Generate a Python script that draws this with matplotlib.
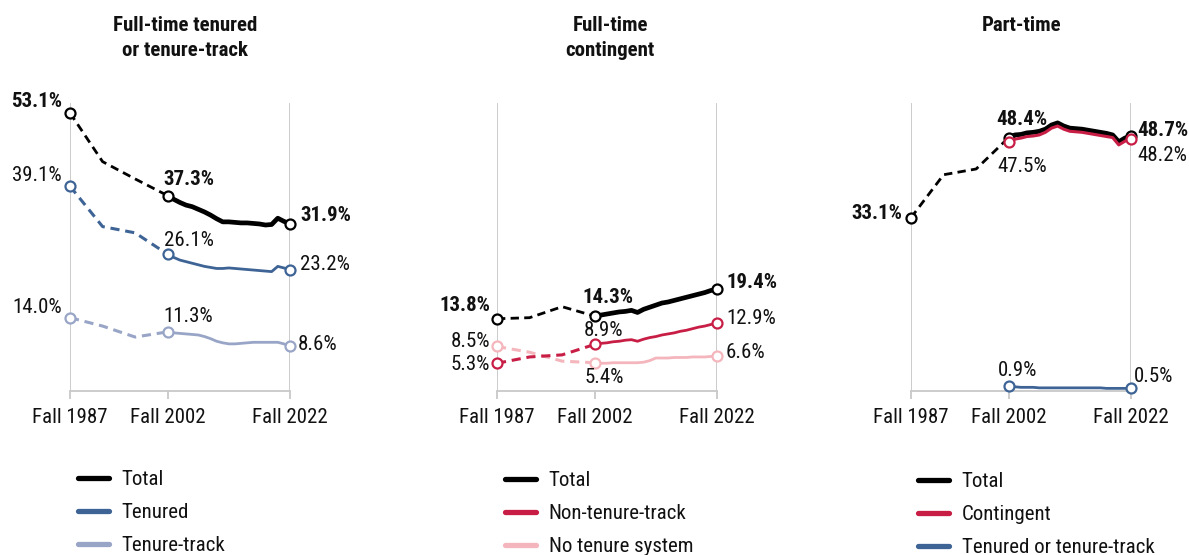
import numpy as np
import matplotlib
matplotlib.use("Agg")
import matplotlib.pyplot as plt
from matplotlib import font_manager as fm
from matplotlib.lines import Line2D

# ---------------- data ----------------
years_early = [1987, 1992, 1997, 2002]
years_late = list(range(2002, 2023))
tick_years = [1987, 2002, 2022]
tick_labels = ["Fall 1987", "Fall 2002", "Fall 2022"]

# Full-time tenured or tenure-track
ftt_total_early = [53.1, 43.8, 40.5, 37.3]
ftt_total_late = [37.3, 36.6, 36.0, 35.5, 35.2, 34.7, 34.2, 33.6, 32.9, 32.3, 32.3,
                  32.2, 32.1, 32.1, 32.0, 31.9, 31.7, 31.8, 33.0, 32.4, 31.9]
tenured_early = [39.1, 31.4, 30.2, 26.1]
tenured_late = [26.1, 25.5, 25.0, 24.7, 24.4, 24.1, 23.8, 23.6, 23.4, 23.4, 23.5,
                23.4, 23.3, 23.2, 23.1, 23.0, 22.9, 22.8, 23.8, 23.5, 23.2]
track_early = [14.0, 12.4, 10.3, 11.3]
track_late = [11.3, 11.1, 11.0, 10.9, 10.8, 10.7, 10.4, 10.0, 9.5, 9.2, 9.0,
              9.0, 9.1, 9.2, 9.3, 9.3, 9.3, 9.3, 9.3, 9.0, 8.6]

# Full-time contingent
fc_total_early = [13.8, 14.0, 16.1, 14.3]
fc_total_late = [14.3, 14.5, 14.7, 14.9, 15.1, 15.2, 15.4, 15.0, 15.6, 16.0, 16.4,
                 16.8, 17.0, 17.3, 17.6, 17.9, 18.2, 18.5, 18.8, 19.2, 19.4]
ntt_early = [5.3, 6.5, 6.9, 8.9]
ntt_late = [8.9, 9.1, 9.2, 9.4, 9.5, 9.7, 9.8, 9.5, 9.9, 10.2, 10.4,
            10.7, 10.9, 11.1, 11.4, 11.6, 11.9, 12.2, 12.4, 12.7, 12.9]
nts_early = [8.5, 7.4, 5.7, 5.4]
nts_late = [5.4, 5.3, 5.3, 5.4, 5.4, 5.4, 5.4, 5.4, 5.5, 5.8, 6.3,
            6.3, 6.3, 6.4, 6.4, 6.4, 6.5, 6.5, 6.5, 6.6, 6.6]

# Part-time
pt_total_early = [33.1, 41.3, 42.4, 48.4]
pt_total_late = [48.4, 48.9, 49.0, 49.3, 49.4, 49.6, 50.0, 50.8, 51.2, 50.6, 50.2,
                 50.1, 50.0, 49.8, 49.6, 49.4, 49.2, 48.9, 47.6, 48.3, 48.7]
pt_cont_late = [47.5, 48.1, 48.3, 48.6, 48.7, 48.9, 49.4, 50.2, 50.6, 50.0, 49.6,
                49.5, 49.4, 49.2, 49.0, 48.8, 48.6, 48.4, 47.0, 47.7, 48.2]
pt_tt_late = [0.9, 0.8, 0.7, 0.7, 0.7, 0.6, 0.6, 0.6, 0.6, 0.6, 0.6,
              0.6, 0.6, 0.6, 0.6, 0.6, 0.5, 0.5, 0.5, 0.5, 0.5]

titles = ["Full-time tenured\nor tenure-track", "Full-time\ncontingent", "Part-time"]

# ---------------- font choice (prefer a condensed sans) ----------------
entries = fm.fontManager.ttflist
names = {f.name for f in entries}
FONT, STRETCH, FS = None, "normal", 15
for cand in ["Roboto Condensed", "Liberation Sans Narrow", "Open Sans Condensed",
             "Noto Sans Condensed", "DejaVu Sans Condensed"]:
    if cand in names:
        FONT = cand
        break
if FONT is None:
    for fam in ["Roboto", "Noto Sans", "Open Sans", "DejaVu Sans", "Inter", "Lato"]:
        if any(f.name == fam and f.stretch in ("condensed", "semi-condensed",
                                              "extra-condensed", 75, 87.5, 62.5)
               for f in entries):
            FONT, STRETCH = fam, "condensed"
            break
if FONT is None:
    FONT, FS = "Roboto", 13
plt.rcParams["font.family"] = [FONT, "DejaVu Sans"]
plt.rcParams["font.stretch"] = STRETCH

BLACK = "#000000"
TEN = "#3e6496"
TRK = "#98a5c6"
CRIM = "#c81e46"
PINK = "#f4b6bc"
GRID = "#c8c8c8"
TXT = "#111111"

W, H = 1189, 555
fig = plt.figure(figsize=(W / 100, H / 100), dpi=100)

def fwd(x):
    x = np.asarray(x, dtype=float)
    return np.where(x <= 2002, (x - 1987) * 97.5 / 15, 97.5 + (x - 2002) * 122 / 20)

def inv(y):
    y = np.asarray(y, dtype=float)
    return np.where(y <= 97.5, 1987 + y * 15 / 97.5, 2002 + (y - 97.5) * 20 / 122)

panel_left = [70, 497, 911]
AX_W = 220
Y0 = 391
Y_TOP = 103

def make_ax(i):
    left = panel_left[i]
    ax = fig.add_axes([left / W, (H - Y0) / H, AX_W / W, (Y0 - Y_TOP) / H])
    ax.set_xscale("function", functions=(fwd, inv))
    ax.set_xlim(1987, 2022)
    ax.set_ylim(0, 55)
    for s in ["top", "right", "left"]:
        ax.spines[s].set_visible(False)
    ax.spines["bottom"].set_color(GRID)
    ax.spines["bottom"].set_linewidth(1.3)
    ax.set_yticks([])
    ax.set_xticks(tick_years)
    ax.set_xticklabels(tick_labels, fontsize=FS)
    ax.tick_params(axis="x", length=6, width=1.3, color=GRID, pad=6, labelcolor=TXT)
    ax.minorticks_off()
    for yr in (1987, 2022):
        ax.axvline(yr, color=GRID, lw=1.3, zorder=0)
    ax.patch.set_alpha(0)
    return ax

DASH = (0, (3.0, 1.9))

def series(ax, early, late, color, lw_solid, lw_dash=2.0, z=3):
    if early is not None:
        ax.plot(years_early, early, color=color, lw=lw_dash, ls=DASH, zorder=z,
                clip_on=False, dash_capstyle="butt")
    ax.plot(years_late, late, color=color, lw=lw_solid, zorder=z + 0.1, clip_on=False,
            solid_joinstyle="round", solid_capstyle="round")
    mx, my = [], []
    if early is not None:
        mx.append(years_early[0]); my.append(early[0])
    mx += [years_late[0], years_late[-1]]
    my += [late[0], late[-1]]
    ax.plot(mx, my, ls="none", marker="o", ms=7.2, mfc="white", mec=color, mew=1.6,
            zorder=z + 0.2, clip_on=False)

def lab(ax, text, yr, val, dx, dy, ha, bold=False):
    ax.annotate(text, xy=(yr, val), xytext=(dx, dy), textcoords="offset pixels",
                ha=ha, va="center", fontsize=FS, fontweight="bold" if bold else "normal",
                color=TXT, annotation_clip=False, zorder=10)

# Panel 1
ax1 = make_ax(0)
series(ax1, track_early, track_late, TRK, 2.0, 2.2, z=3)
series(ax1, tenured_early, tenured_late, TEN, 2.0, 2.2, z=4)
series(ax1, ftt_total_early, ftt_total_late, BLACK, 3.4, 2.0, z=5)
lab(ax1, "53.1%", 1987, ftt_total_early[0], -8, 11, "right", True)
lab(ax1, "39.1%", 1987, tenured_early[0], -8, 11, "right")
lab(ax1, "14.0%", 1987, track_early[0], -8, 10, "right")
lab(ax1, "37.3%", 2002, ftt_total_late[0], -4, 16, "left", True)
lab(ax1, "26.1%", 2002, tenured_late[0], -4, 14, "left")
lab(ax1, "11.3%", 2002, track_late[0], -4, 15, "left")
lab(ax1, "31.9%", 2022, ftt_total_late[-1], 10, 8, "left", True)
lab(ax1, "23.2%", 2022, tenured_late[-1], 10, 5, "left")
lab(ax1, "8.6%", 2022, track_late[-1], 8, 1, "left")

# Panel 2
ax2 = make_ax(1)
series(ax2, nts_early, nts_late, PINK, 2.0, 2.2, z=3)
series(ax2, ntt_early, ntt_late, CRIM, 2.0, 2.2, z=4)
series(ax2, fc_total_early, fc_total_late, BLACK, 3.4, 2.0, z=5)
lab(ax2, "13.8%", 1987, fc_total_early[0], -7, 13, "right", True)
lab(ax2, "8.5%", 1987, nts_early[0], -7, 5, "right")
lab(ax2, "5.3%", 1987, ntt_early[0], -7, -1, "right")
lab(ax2, "14.3%", 2002, fc_total_late[0], -12, 19, "left", True)
lab(ax2, "8.9%", 2002, ntt_late[0], -11, 14, "left")
lab(ax2, "5.4%", 2002, nts_late[0], -10, -15, "left")
lab(ax2, "19.4%", 2022, fc_total_late[-1], 9, 7, "left", True)
lab(ax2, "12.9%", 2022, ntt_late[-1], 9, 5, "left")
lab(ax2, "6.6%", 2022, nts_late[-1], 9, 4, "left")

# Panel 3
ax3 = make_ax(2)
series(ax3, None, pt_tt_late, TEN, 2.0, z=3)
series(ax3, pt_total_early, pt_total_late, BLACK, 3.4, 2.0, z=4)
series(ax3, None, pt_cont_late, CRIM, 2.2, z=5)
lab(ax3, "33.1%", 1987, pt_total_early[0], -9, 4, "right", True)
lab(ax3, "48.4%", 2002, pt_total_late[0], -12, 18, "left", True)
lab(ax3, "47.5%", 2002, pt_cont_late[0], -11, -24, "left")
lab(ax3, "48.7%", 2022, pt_total_late[-1], 6, 5, "left", True)
lab(ax3, "48.2%", 2022, pt_cont_late[-1], 6, -17, "left")
lab(ax3, "0.9%", 2002, pt_tt_late[0], -11, 16, "left")
lab(ax3, "0.5%", 2022, pt_tt_late[-1], 3, 12, "left")

# Titles
title_x = [185, 610, 1022]
for tx, t in zip(title_x, titles):
    fig.text(tx / W, 1 - 16 / H, t, ha="center", va="top", fontsize=FS,
             fontweight="bold", linespacing=1.4, color=TXT)

# Legends
legend_specs = [
    (78, 470, [("Total", BLACK), ("Tenured", TEN), ("Tenure-track", TRK)]),
    (505, 471, [("Total", BLACK), ("Non-tenure-track", CRIM), ("No tenure system", PINK)]),
    (918, 472, [("Total", BLACK), ("Contingent", CRIM), ("Tenured or tenure-track", TEN)]),
]
for lx, ly, items in legend_specs:
    handles = [Line2D([], [], color=c, lw=3.8, solid_capstyle="round") for _, c in items]
    fig.legend(handles, [n for n, _ in items], loc="upper left",
               bbox_to_anchor=(lx / W, 1 - ly / H), frameon=False, fontsize=FS,
               handlelength=1.5, handletextpad=0.6, labelspacing=0.68,
               borderpad=0, borderaxespad=0, labelcolor=TXT)

fig.savefig("out.png", dpi=100)
